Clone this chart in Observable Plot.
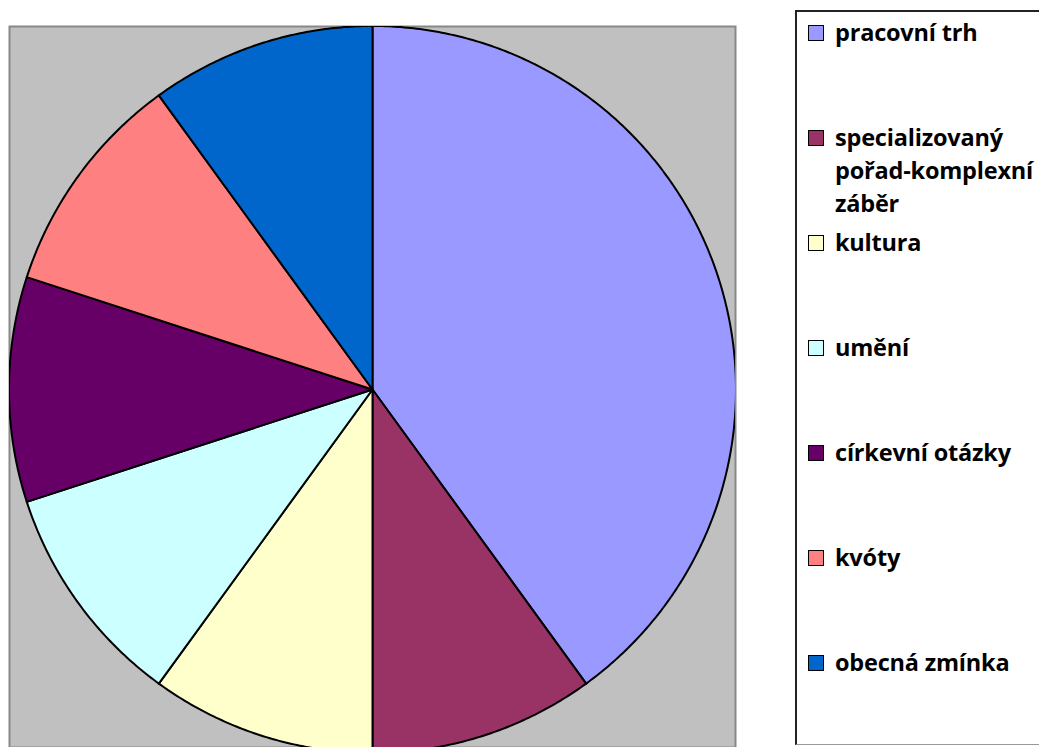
<!DOCTYPE html>
<html>
<head>
<meta charset="utf-8">
<script src="https://cdn.jsdelivr.net/npm/d3@7"></script>
<script src="https://cdn.jsdelivr.net/npm/@observablehq/plot@0.6"></script>
<style>
  html, body { margin: 0; padding: 0; background: #fff; }
  #wrap { position: relative; width: 1039px; height: 747px; overflow: hidden; }
  #chart svg { display: block; }
  #legend {
    position: absolute; left: 795px; top: 10px; width: 260px; height: 735px;
    box-sizing: border-box; border: 1px solid #999; border-left: 2px solid #222; border-top: 2px solid #222;
    background: #fff;
  }
  .item { position: absolute; left: 11px; display: flex; align-items: flex-start;
    font-family: "Open Sans", Lato, sans-serif; font-weight: 700; font-size: 23.5px; line-height: 33px; color: #000;
    letter-spacing: -0.2px; white-space: nowrap; }
  .sw { width: 14px; height: 14px; border: 1px solid #000; margin-top: 9px; margin-right: 11px; flex: none; }
</style>
</head>
<body>
<div id="wrap">
  <div id="chart"></div>
  <div id="legend"></div>
</div>
<script>
const categories = ["pracovní trh", "specializovaný pořad-komplexní záběr", "kultura", "umění", "církevní otázky", "kvóty", "obecná zmínka"];
const legendLines = [["pracovní trh"], ["specializovaný", "pořad-komplexní", "záběr"], ["kultura"], ["umění"], ["církevní otázky"], ["kvóty"], ["obecná zmínka"]];
const values = [4, 1, 1, 1, 1, 1, 1];
const colors = ["#9999FF", "#993366", "#FFFFCC", "#CCFFFF", "#660066", "#FF8080", "#0066CC"];

const table = categories.map((c, i) => ({category: c, value: values[i]}));
const arcs = d3.pie().sort(null).value(d => d.value)(table);

// polygon vertices in unit-circle data coordinates
const pts = [];
arcs.forEach(a => {
  const c = a.data.category;
  pts.push({category: c, x: 0, y: 0});
  const n = Math.max(2, Math.ceil((a.endAngle - a.startAngle) / (Math.PI / 360)));
  for (let k = 0; k <= n; k++) {
    const t = a.startAngle + (a.endAngle - a.startAngle) * k / n;
    pts.push({category: c, x: Math.sin(t), y: Math.cos(t)});
  }
});

const R = 363.5;
const cx = 372, cy = 389;
const pLeft = 9, pRight = 735, pTop = 26, pBottom = 747;

const chart = Plot.plot({
  width: 1039,
  height: 747,
  marginLeft: pLeft,
  marginRight: 1039 - pRight,
  marginTop: pTop,
  marginBottom: 747 - pBottom,
  x: {domain: [(pLeft - cx) / R, (pRight - cx) / R], axis: null},
  y: {domain: [(cy - pBottom) / R, (cy - pTop) / R], axis: null},
  color: {domain: categories, range: colors},
  marks: [
    Plot.frame({fill: "#C0C0C0", stroke: "#888888", strokeWidth: 2}),
    Plot.line(pts, {x: "x", y: "y", z: "category", fill: "category", stroke: "#000", strokeWidth: 2,
      strokeLinejoin: "round", curve: "linear-closed", clip: true})
  ]
});
document.getElementById("chart").appendChild(chart);

const legend = document.getElementById("legend");
legendLines.forEach((lines, i) => {
  const item = document.createElement("div");
  item.className = "item";
  item.style.top = (32 + 105 * i - 12 - 16.5) + "px";
  const sw = document.createElement("div");
  sw.className = "sw";
  sw.style.background = colors[i];
  const txt = document.createElement("div");
  txt.innerHTML = lines.join("<br>");
  item.appendChild(sw);
  item.appendChild(txt);
  legend.appendChild(item);
});
</script>
</body>
</html>
